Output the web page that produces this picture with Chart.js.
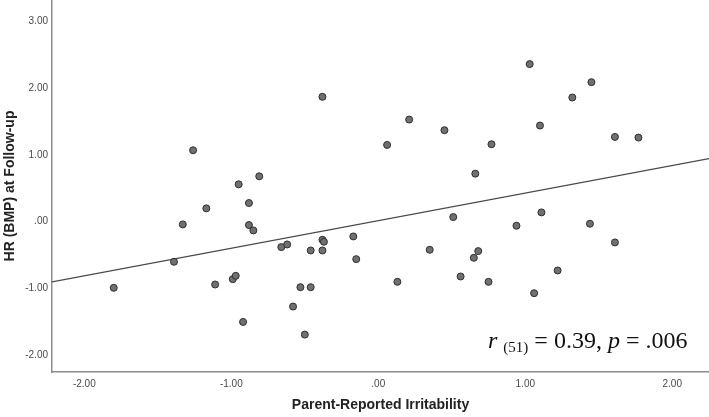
<!DOCTYPE html>
<html>
<head>
<meta charset="utf-8">
<title>HR at Follow-up vs Parent-Reported Irritability</title>
<script src="https://cdn.jsdelivr.net/npm/chart.js"></script>
<style>
  html, body { margin: 0; padding: 0; background: #fff; }
  #wrap { position: relative; width: 709px; height: 417px; }
  #stat {
    position: absolute; left: 488px; top: 328px;
    font-family: "Liberation Serif", "DejaVu Serif", serif;
    font-size: 24px; line-height: 24px; color: #111; white-space: nowrap;
  }
  #stat .sub { font-size: 15px; position: relative; top: 4px; }
</style>
</head>
<body>
<div id="wrap">
  <canvas id="scatter" width="709" height="417"></canvas>
  <div id="stat"><i>r</i> <span class="sub">(51)</span> = 0.39, <i>p</i> = .006</div>
</div>
<script>
// values
const irritability = [
  -1.26, -0.38, 0.06, -0.81, -0.95, 0.21, 0.45, 1.03, 1.45, 1.32,
  1.10, 0.77, 0.66, 1.61, 1.77, -0.88, -1.17, -1.33, -0.88, -0.85,
  -1.39, -1.80, -1.11, -0.99, -0.97, -0.66, -0.62, -0.46, -0.38, -0.38,
  -0.37, -0.17, -0.15, -0.53, -0.46, -0.58, -0.92, -0.50, 0.51, 1.11,
  0.94, 1.44, 1.61, 0.35, 0.68, 0.65, 0.13, 0.56, 0.75, 1.06,
  1.22
];
const hrFollowUp = [
  1.07, 1.87, 1.15, 0.68, 0.56, 1.53, 1.37, 2.36, 2.09, 1.86,
  1.44, 1.16, 0.72, 1.27, 1.26, 0.28, 0.20, -0.04, -0.05, -0.13,
  -0.60, -0.99, -0.94, -0.86, -0.81, -0.38, -0.34, -0.43, -0.43, -0.27,
  -0.30, -0.22, -0.56, -0.98, -0.98, -1.27, -1.50, -1.69, 0.07, 0.14,
  -0.06, -0.03, -0.31, -0.42, -0.44, -0.54, -0.90, -0.82, -0.90, -1.07,
  -0.73
];
const xTicks = [-2, -1, 0, 1, 2];
const yTicks = [-2, -1, 0, 1, 2, 3];
const xRange = [-2.22, 2.25];
const yRange = [-2.25, 3.32];
// fit line: hr = intercept + slope * irritability
const fitIntercept = 0.017;
const fitSlope = 0.413;

const points = irritability.map((x, i) => ({ x: x, y: hrFollowUp[i] }));
const fitLine = xRange.map((x) => ({ x: x, y: fitIntercept + fitSlope * x }));

// SPSS style: ".00" instead of "0.00"
function spssFormat(v) {
  const s = Number(v).toFixed(2);
  return s.replace(/^(-?)0\./, '$1.');
}

const tickFont = { family: 'Liberation Sans, Arial, sans-serif', size: 10 };
const titleFont = { family: 'Liberation Sans, Arial, sans-serif', size: 14, weight: 'bold' };

new Chart(document.getElementById('scatter').getContext('2d'), {
  type: 'scatter',
  data: {
    datasets: [
      {
        label: 'Fit',
        type: 'line',
        data: fitLine,
        borderColor: '#4a4a4a',
        borderWidth: 1.2,
        pointRadius: 0,
        fill: false,
        order: 2,
      },
      {
        label: 'Participants',
        data: points,
        backgroundColor: '#707070',
        borderColor: '#2e2e2e',
        borderWidth: 1,
        pointRadius: 3.5,
        order: 1,
      },
    ],
  },
  options: {
    responsive: false,
    animation: false,
    layout: { padding: 0, autoPadding: false },
    plugins: { legend: { display: false }, tooltip: { enabled: false } },
    scales: {
      x: {
        type: 'linear',
        min: xRange[0],
        max: xRange[1],
        afterBuildTicks: (scale) => { scale.ticks = xTicks.map((v) => ({ value: v })); },
        afterFit: (scale) => { scale.height = 45; scale.paddingLeft = 0; scale.paddingRight = 0; },
        grid: { display: false, drawTicks: false },
        border: { display: true, color: '#8c8c8c', width: 1.5 },
        ticks: { font: tickFont, color: '#4a4a4a', padding: 6, callback: (v) => spssFormat(v), maxRotation: 0 },
        title: { display: true, text: 'Parent-Reported Irritability', font: titleFont, color: '#222', padding: { top: 4, bottom: 3 } },
      },
      y: {
        type: 'linear',
        min: yRange[0],
        max: yRange[1],
        afterBuildTicks: (scale) => { scale.ticks = yTicks.map((v) => ({ value: v })); },
        afterFit: (scale) => { scale.width = 52; scale.paddingTop = 0; scale.paddingBottom = 0; },
        grid: { display: false, drawTicks: false },
        border: { display: true, color: '#8c8c8c', width: 1.5 },
        ticks: { font: tickFont, color: '#4a4a4a', padding: 4, callback: (v) => spssFormat(v) },
        title: { display: true, text: 'HR (BMP) at Follow-up', font: titleFont, color: '#222', padding: { top: 2, bottom: 0 } },
      },
    },
  },
});
</script>
</body>
</html>
